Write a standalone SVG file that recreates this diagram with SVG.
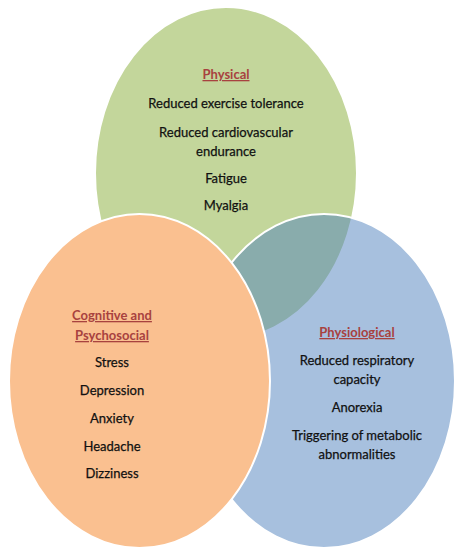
<svg xmlns="http://www.w3.org/2000/svg" width="456" height="550" viewBox="0 0 456 550">
  <style>
    .shape { stroke: #ffffff; stroke-width: 2; }
    .title { font-family: Lato, "Liberation Sans", sans-serif; font-size: 13px; font-weight: bold; fill: #a8423f; text-anchor: middle; text-decoration: underline; }
    .item { font-family: Lato, "Liberation Sans", sans-serif; font-size: 13px; fill: #111111; stroke: #111111; stroke-width: 0.25; text-anchor: middle; }
  </style>
  <rect x="0" y="0" width="456" height="550" fill="#ffffff"/>
  <g id="physical">
    <ellipse class="shape" cx="226" cy="173" rx="131" ry="166" fill="#c3d69b"/>
    <text class="title" x="226" y="79">Physical</text>
    <text class="item" x="226" y="108">Reduced exercise tolerance</text>
    <text class="item" x="226" y="137">Reduced cardiovascular</text>
    <text class="item" x="226" y="156">endurance</text>
    <text class="item" x="226" y="183">Fatigue</text>
    <text class="item" x="226" y="210">Myalgia</text>
  </g>
  <g id="physiological">
    <ellipse class="shape" cx="324" cy="381" rx="131" ry="167" fill="#4f81bd" fill-opacity="0.5"/>
    <text class="title" x="357" y="337">Physiological</text>
    <text class="item" x="357" y="365">Reduced respiratory</text>
    <text class="item" x="357" y="384">capacity</text>
    <text class="item" x="357" y="412">Anorexia</text>
    <text class="item" x="357" y="440">Triggering of metabolic</text>
    <text class="item" x="357" y="459">abnormalities</text>
  </g>
  <g id="cognitive">
    <ellipse class="shape" cx="139.5" cy="381" rx="130.5" ry="167" fill="#fac090"/>
    <text class="title" x="112" y="320">Cognitive and</text>
    <text class="title" x="112" y="340">Psychosocial</text>
    <text class="item" x="112" y="367">Stress</text>
    <text class="item" x="112" y="395">Depression</text>
    <text class="item" x="112" y="423">Anxiety</text>
    <text class="item" x="112" y="451">Headache</text>
    <text class="item" x="112" y="478">Dizziness</text>
  </g>
</svg>
